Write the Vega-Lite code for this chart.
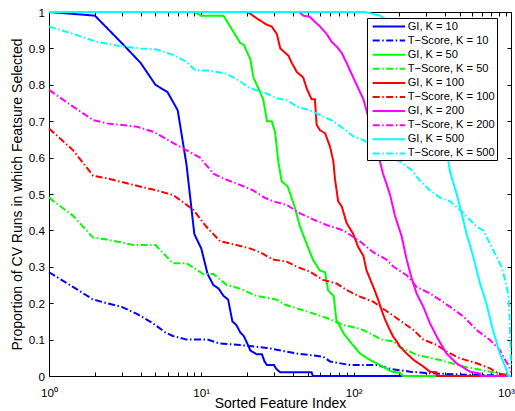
{
"$schema":"https://vega.github.io/schema/vega-lite/v6.json",
"width":462,"height":364,
"autosize":{"type":"none"},
"padding":{"left":49,"top":12,"right":4,"bottom":35},
"background":"white",
"datasets":{"d":[
{"series":"GI, K = 10","x":1,"y":1},{"series":"GI, K = 10","x":2,"y":0.99},{"series":"GI, K = 10","x":3,"y":0.915},{"series":"GI, K = 10","x":4,"y":0.86},{"series":"GI, K = 10","x":5,"y":0.8},{"series":"GI, K = 10","x":6,"y":0.78},{"series":"GI, K = 10","x":7,"y":0.73},{"series":"GI, K = 10","x":8,"y":0.58},{"series":"GI, K = 10","x":9,"y":0.39},{"series":"GI, K = 10","x":10,"y":0.35},{"series":"GI, K = 10","x":11,"y":0.28},{"series":"GI, K = 10","x":12,"y":0.25},{"series":"GI, K = 10","x":13,"y":0.24},{"series":"GI, K = 10","x":14,"y":0.22},{"series":"GI, K = 10","x":15,"y":0.21},{"series":"GI, K = 10","x":16,"y":0.15},{"series":"GI, K = 10","x":17,"y":0.14},{"series":"GI, K = 10","x":18,"y":0.12},{"series":"GI, K = 10","x":19,"y":0.11},{"series":"GI, K = 10","x":20,"y":0.09},{"series":"GI, K = 10","x":21,"y":0.07},{"series":"GI, K = 10","x":23,"y":0.06},{"series":"GI, K = 10","x":25,"y":0.06},{"series":"GI, K = 10","x":26,"y":0.04},{"series":"GI, K = 10","x":27,"y":0.03},{"series":"GI, K = 10","x":30,"y":0.03},{"series":"GI, K = 10","x":31,"y":0.02},{"series":"GI, K = 10","x":33,"y":0.01},{"series":"GI, K = 10","x":53,"y":0.01},{"series":"GI, K = 10","x":54,"y":0},{"series":"GI, K = 10","x":1080,"y":0},
{"series":"T−Score, K = 10","x":1,"y":0.285},{"series":"T−Score, K = 10","x":1.5,"y":0.24},{"series":"T−Score, K = 10","x":1.95,"y":0.21},{"series":"T−Score, K = 10","x":2.4,"y":0.2},{"series":"T−Score, K = 10","x":3,"y":0.19},{"series":"T−Score, K = 10","x":3.8,"y":0.17},{"series":"T−Score, K = 10","x":4.8,"y":0.145},{"series":"T−Score, K = 10","x":5.8,"y":0.12},{"series":"T−Score, K = 10","x":6.5,"y":0.11},{"series":"T−Score, K = 10","x":8,"y":0.1},{"series":"T−Score, K = 10","x":11,"y":0.1},{"series":"T−Score, K = 10","x":13,"y":0.09},{"series":"T−Score, K = 10","x":18,"y":0.085},{"series":"T−Score, K = 10","x":27,"y":0.077},{"series":"T−Score, K = 10","x":42,"y":0.062},{"series":"T−Score, K = 10","x":63,"y":0.053},{"series":"T−Score, K = 10","x":70,"y":0.04},{"series":"T−Score, K = 10","x":95,"y":0.03},{"series":"T−Score, K = 10","x":142,"y":0.03},{"series":"T−Score, K = 10","x":173,"y":0.02},{"series":"T−Score, K = 10","x":200,"y":0.016},{"series":"T−Score, K = 10","x":235,"y":0.012},{"series":"T−Score, K = 10","x":300,"y":0.008},{"series":"T−Score, K = 10","x":500,"y":0.004},{"series":"T−Score, K = 10","x":800,"y":0.002},{"series":"T−Score, K = 10","x":1080,"y":0},
{"series":"GI, K = 50","x":1,"y":1},{"series":"GI, K = 50","x":9,"y":1},{"series":"GI, K = 50","x":10,"y":0.99},{"series":"GI, K = 50","x":14,"y":0.99},{"series":"GI, K = 50","x":16,"y":0.95},{"series":"GI, K = 50","x":18,"y":0.915},{"series":"GI, K = 50","x":19,"y":0.91},{"series":"GI, K = 50","x":21,"y":0.87},{"series":"GI, K = 50","x":22,"y":0.82},{"series":"GI, K = 50","x":24,"y":0.785},{"series":"GI, K = 50","x":25.5,"y":0.76},{"series":"GI, K = 50","x":27,"y":0.7},{"series":"GI, K = 50","x":29,"y":0.7},{"series":"GI, K = 50","x":30.5,"y":0.67},{"series":"GI, K = 50","x":32,"y":0.59},{"series":"GI, K = 50","x":33.7,"y":0.535},{"series":"GI, K = 50","x":37,"y":0.52},{"series":"GI, K = 50","x":41,"y":0.465},{"series":"GI, K = 50","x":44.5,"y":0.41},{"series":"GI, K = 50","x":49,"y":0.365},{"series":"GI, K = 50","x":54,"y":0.32},{"series":"GI, K = 50","x":60,"y":0.29},{"series":"GI, K = 50","x":65,"y":0.285},{"series":"GI, K = 50","x":68,"y":0.235},{"series":"GI, K = 50","x":74,"y":0.22},{"series":"GI, K = 50","x":77,"y":0.155},{"series":"GI, K = 50","x":86,"y":0.117},{"series":"GI, K = 50","x":95,"y":0.094},{"series":"GI, K = 50","x":110,"y":0.062},{"series":"GI, K = 50","x":128,"y":0.044},{"series":"GI, K = 50","x":149,"y":0.03},{"series":"GI, K = 50","x":178,"y":0.012},{"series":"GI, K = 50","x":202,"y":0.009},{"series":"GI, K = 50","x":211,"y":0},{"series":"GI, K = 50","x":1080,"y":0},
{"series":"T−Score, K = 50","x":1,"y":0.49},{"series":"T−Score, K = 50","x":1.44,"y":0.44},{"series":"T−Score, K = 50","x":1.95,"y":0.38},{"series":"T−Score, K = 50","x":2.4,"y":0.375},{"series":"T−Score, K = 50","x":3.6,"y":0.36},{"series":"T−Score, K = 50","x":5,"y":0.36},{"series":"T−Score, K = 50","x":6.5,"y":0.31},{"series":"T−Score, K = 50","x":8,"y":0.31},{"series":"T−Score, K = 50","x":10.3,"y":0.28},{"series":"T−Score, K = 50","x":12,"y":0.28},{"series":"T−Score, K = 50","x":14.7,"y":0.25},{"series":"T−Score, K = 50","x":18,"y":0.24},{"series":"T−Score, K = 50","x":23,"y":0.22},{"series":"T−Score, K = 50","x":31,"y":0.21},{"series":"T−Score, K = 50","x":36,"y":0.195},{"series":"T−Score, K = 50","x":51.5,"y":0.175},{"series":"T−Score, K = 50","x":66,"y":0.16},{"series":"T−Score, K = 50","x":86,"y":0.14},{"series":"T−Score, K = 50","x":110,"y":0.13},{"series":"T−Score, K = 50","x":128,"y":0.117},{"series":"T−Score, K = 50","x":153,"y":0.1},{"series":"T−Score, K = 50","x":183,"y":0.095},{"series":"T−Score, K = 50","x":202,"y":0.08},{"series":"T−Score, K = 50","x":259,"y":0.058},{"series":"T−Score, K = 50","x":369,"y":0.044},{"series":"T−Score, K = 50","x":527,"y":0.026},{"series":"T−Score, K = 50","x":785,"y":0.012},{"series":"T−Score, K = 50","x":1000,"y":0.004},{"series":"T−Score, K = 50","x":1080,"y":0},
{"series":"GI, K = 100","x":1,"y":1},{"series":"GI, K = 100","x":20,"y":1},{"series":"GI, K = 100","x":21,"y":0.995},{"series":"GI, K = 100","x":23.6,"y":0.98},{"series":"GI, K = 100","x":27,"y":0.965},{"series":"GI, K = 100","x":29,"y":0.96},{"series":"GI, K = 100","x":31.3,"y":0.94},{"series":"GI, K = 100","x":33,"y":0.9},{"series":"GI, K = 100","x":37.3,"y":0.88},{"series":"GI, K = 100","x":39.3,"y":0.86},{"series":"GI, K = 100","x":42.4,"y":0.835},{"series":"GI, K = 100","x":46.7,"y":0.82},{"series":"GI, K = 100","x":49.2,"y":0.79},{"series":"GI, K = 100","x":53,"y":0.76},{"series":"GI, K = 100","x":55.7,"y":0.76},{"series":"GI, K = 100","x":57.2,"y":0.69},{"series":"GI, K = 100","x":60.2,"y":0.675},{"series":"GI, K = 100","x":65,"y":0.667},{"series":"GI, K = 100","x":70,"y":0.63},{"series":"GI, K = 100","x":73.6,"y":0.59},{"series":"GI, K = 100","x":75.5,"y":0.54},{"series":"GI, K = 100","x":79.2,"y":0.48},{"series":"GI, K = 100","x":83.7,"y":0.465},{"series":"GI, K = 100","x":90,"y":0.42},{"series":"GI, K = 100","x":99.5,"y":0.39},{"series":"GI, K = 100","x":107,"y":0.355},{"series":"GI, K = 100","x":116,"y":0.33},{"series":"GI, K = 100","x":121.6,"y":0.29},{"series":"GI, K = 100","x":134.6,"y":0.245},{"series":"GI, K = 100","x":145,"y":0.21},{"series":"GI, K = 100","x":153,"y":0.18},{"series":"GI, K = 100","x":161,"y":0.155},{"series":"GI, K = 100","x":173,"y":0.126},{"series":"GI, K = 100","x":182,"y":0.108},{"series":"GI, K = 100","x":192,"y":0.095},{"series":"GI, K = 100","x":202,"y":0.08},{"series":"GI, K = 100","x":223,"y":0.062},{"series":"GI, K = 100","x":248,"y":0.044},{"series":"GI, K = 100","x":287,"y":0.026},{"series":"GI, K = 100","x":317,"y":0.012},{"series":"GI, K = 100","x":350,"y":0.01},{"series":"GI, K = 100","x":353,"y":0},{"series":"GI, K = 100","x":1080,"y":0},
{"series":"T−Score, K = 100","x":1,"y":0.68},{"series":"T−Score, K = 100","x":1.44,"y":0.62},{"series":"T−Score, K = 100","x":1.95,"y":0.55},{"series":"T−Score, K = 100","x":2.4,"y":0.543},{"series":"T−Score, K = 100","x":4,"y":0.52},{"series":"T−Score, K = 100","x":5.1,"y":0.51},{"series":"T−Score, K = 100","x":6.55,"y":0.497},{"series":"T−Score, K = 100","x":8.9,"y":0.456},{"series":"T−Score, K = 100","x":10.8,"y":0.41},{"series":"T−Score, K = 100","x":13.3,"y":0.37},{"series":"T−Score, K = 100","x":17,"y":0.36},{"series":"T−Score, K = 100","x":21,"y":0.35},{"series":"T−Score, K = 100","x":24.3,"y":0.34},{"series":"T−Score, K = 100","x":29.6,"y":0.32},{"series":"T−Score, K = 100","x":36.4,"y":0.314},{"series":"T−Score, K = 100","x":42.4,"y":0.3},{"series":"T−Score, K = 100","x":51.5,"y":0.287},{"series":"T−Score, K = 100","x":63,"y":0.264},{"series":"T−Score, K = 100","x":77.4,"y":0.254},{"series":"T−Score, K = 100","x":90,"y":0.236},{"series":"T−Score, K = 100","x":110,"y":0.218},{"series":"T−Score, K = 100","x":134.6,"y":0.204},{"series":"T−Score, K = 100","x":173,"y":0.172},{"series":"T−Score, K = 100","x":207,"y":0.149},{"series":"T−Score, K = 100","x":248,"y":0.126},{"series":"T−Score, K = 100","x":287,"y":0.1},{"series":"T−Score, K = 100","x":352,"y":0.085},{"series":"T−Score, K = 100","x":407,"y":0.067},{"series":"T−Score, K = 100","x":497,"y":0.049},{"series":"T−Score, K = 100","x":643,"y":0.035},{"series":"T−Score, K = 100","x":786,"y":0.021},{"series":"T−Score, K = 100","x":890,"y":0.007},{"series":"T−Score, K = 100","x":1000,"y":0.002},{"series":"T−Score, K = 100","x":1080,"y":0},
{"series":"GI, K = 200","x":1,"y":1},{"series":"GI, K = 200","x":44,"y":1},{"series":"GI, K = 200","x":46.7,"y":0.99},{"series":"GI, K = 200","x":51.5,"y":0.987},{"series":"GI, K = 200","x":55.7,"y":0.973},{"series":"GI, K = 200","x":60.2,"y":0.96},{"series":"GI, K = 200","x":66.4,"y":0.94},{"series":"GI, K = 200","x":71.8,"y":0.918},{"series":"GI, K = 200","x":77.4,"y":0.905},{"series":"GI, K = 200","x":83.7,"y":0.887},{"series":"GI, K = 200","x":90,"y":0.86},{"series":"GI, K = 200","x":97,"y":0.83},{"series":"GI, K = 200","x":104.7,"y":0.8},{"series":"GI, K = 200","x":116,"y":0.76},{"series":"GI, K = 200","x":135,"y":0.66},{"series":"GI, K = 200","x":156,"y":0.556},{"series":"GI, K = 200","x":173,"y":0.5},{"series":"GI, K = 200","x":187,"y":0.44},{"series":"GI, K = 200","x":207,"y":0.383},{"series":"GI, K = 200","x":223,"y":0.32},{"series":"GI, K = 200","x":240,"y":0.27},{"series":"GI, K = 200","x":259,"y":0.227},{"series":"GI, K = 200","x":287,"y":0.19},{"series":"GI, K = 200","x":317,"y":0.145},{"series":"GI, K = 200","x":360,"y":0.1},{"series":"GI, K = 200","x":407,"y":0.062},{"series":"GI, K = 200","x":474,"y":0.035},{"series":"GI, K = 200","x":580,"y":0.012},{"series":"GI, K = 200","x":675,"y":0.007},{"series":"GI, K = 200","x":680,"y":0},{"series":"GI, K = 200","x":1080,"y":0},
{"series":"T−Score, K = 200","x":1,"y":0.786},{"series":"T−Score, K = 200","x":1.44,"y":0.74},{"series":"T−Score, K = 200","x":1.95,"y":0.703},{"series":"T−Score, K = 200","x":2.4,"y":0.694},{"series":"T−Score, K = 200","x":3.76,"y":0.685},{"series":"T−Score, K = 200","x":4.84,"y":0.671},{"series":"T−Score, K = 200","x":6.55,"y":0.64},{"series":"T−Score, K = 200","x":8,"y":0.62},{"series":"T−Score, K = 200","x":9.8,"y":0.6},{"series":"T−Score, K = 200","x":12,"y":0.556},{"series":"T−Score, K = 200","x":13.9,"y":0.543},{"series":"T−Score, K = 200","x":17,"y":0.529},{"series":"T−Score, K = 200","x":21.9,"y":0.51},{"series":"T−Score, K = 200","x":26,"y":0.49},{"series":"T−Score, K = 200","x":29.6,"y":0.48},{"series":"T−Score, K = 200","x":36.4,"y":0.47},{"series":"T−Score, K = 200","x":44.5,"y":0.447},{"series":"T−Score, K = 200","x":54.4,"y":0.43},{"series":"T−Score, K = 200","x":66.4,"y":0.415},{"series":"T−Score, K = 200","x":85.6,"y":0.4},{"series":"T−Score, K = 200","x":110,"y":0.37},{"series":"T−Score, K = 200","x":134.6,"y":0.34},{"series":"T−Score, K = 200","x":164,"y":0.32},{"series":"T−Score, K = 200","x":183,"y":0.3},{"series":"T−Score, K = 200","x":223,"y":0.277},{"series":"T−Score, K = 200","x":259,"y":0.245},{"series":"T−Score, K = 200","x":317,"y":0.227},{"series":"T−Score, K = 200","x":369,"y":0.209},{"series":"T−Score, K = 200","x":430,"y":0.19},{"series":"T−Score, K = 200","x":527,"y":0.163},{"series":"T−Score, K = 200","x":643,"y":0.126},{"series":"T−Score, K = 200","x":786,"y":0.099},{"series":"T−Score, K = 200","x":913,"y":0.071},{"series":"T−Score, K = 200","x":990,"y":0.044},{"series":"T−Score, K = 200","x":1040,"y":0.03},{"series":"T−Score, K = 200","x":1080,"y":0.01},
{"series":"GI, K = 500","x":1,"y":1},{"series":"GI, K = 500","x":119,"y":1},{"series":"GI, K = 500","x":149,"y":0.99},{"series":"GI, K = 500","x":170,"y":0.975},{"series":"GI, K = 500","x":200,"y":0.95},{"series":"GI, K = 500","x":250,"y":0.9},{"series":"GI, K = 500","x":300,"y":0.83},{"series":"GI, K = 500","x":350,"y":0.74},{"series":"GI, K = 500","x":400,"y":0.64},{"series":"GI, K = 500","x":430,"y":0.56},{"series":"GI, K = 500","x":475,"y":0.5},{"series":"GI, K = 500","x":512,"y":0.447},{"series":"GI, K = 500","x":552,"y":0.39},{"series":"GI, K = 500","x":610,"y":0.328},{"series":"GI, K = 500","x":675,"y":0.255},{"series":"GI, K = 500","x":744,"y":0.2},{"series":"GI, K = 500","x":822,"y":0.126},{"series":"GI, K = 500","x":913,"y":0.062},{"series":"GI, K = 500","x":990,"y":0.026},{"series":"GI, K = 500","x":1040,"y":0},{"series":"GI, K = 500","x":1080,"y":0},
{"series":"T−Score, K = 500","x":1,"y":0.96},{"series":"T−Score, K = 500","x":1.44,"y":0.94},{"series":"T−Score, K = 500","x":2.06,"y":0.918},{"series":"T−Score, K = 500","x":3.07,"y":0.905},{"series":"T−Score, K = 500","x":4,"y":0.9},{"series":"T−Score, K = 500","x":5.1,"y":0.897},{"series":"T−Score, K = 500","x":6.55,"y":0.882},{"series":"T−Score, K = 500","x":8,"y":0.863},{"series":"T−Score, K = 500","x":9.1,"y":0.84},{"series":"T−Score, K = 500","x":11.4,"y":0.839},{"series":"T−Score, K = 500","x":14.7,"y":0.83},{"series":"T−Score, K = 500","x":17.9,"y":0.81},{"series":"T−Score, K = 500","x":20.9,"y":0.79},{"series":"T−Score, K = 500","x":25.5,"y":0.78},{"series":"T−Score, K = 500","x":31.3,"y":0.763},{"series":"T−Score, K = 500","x":36.4,"y":0.758},{"series":"T−Score, K = 500","x":42.4,"y":0.74},{"series":"T−Score, K = 500","x":51.5,"y":0.73},{"series":"T−Score, K = 500","x":63,"y":0.713},{"series":"T−Score, K = 500","x":73.6,"y":0.7},{"series":"T−Score, K = 500","x":85.6,"y":0.68},{"series":"T−Score, K = 500","x":99.5,"y":0.658},{"series":"T−Score, K = 500","x":116,"y":0.648},{"series":"T−Score, K = 500","x":150,"y":0.62},{"series":"T−Score, K = 500","x":200,"y":0.59},{"series":"T−Score, K = 500","x":240,"y":0.566},{"series":"T−Score, K = 500","x":271,"y":0.538},{"series":"T−Score, K = 500","x":317,"y":0.51},{"series":"T−Score, K = 500","x":369,"y":0.49},{"series":"T−Score, K = 500","x":430,"y":0.48},{"series":"T−Score, K = 500","x":527,"y":0.447},{"series":"T−Score, K = 500","x":643,"y":0.41},{"series":"T−Score, K = 500","x":710,"y":0.4},{"series":"T−Score, K = 500","x":825,"y":0.346},{"series":"T−Score, K = 500","x":935,"y":0.3},{"series":"T−Score, K = 500","x":1000,"y":0.255},{"series":"T−Score, K = 500","x":1040,"y":0.22},{"series":"T−Score, K = 500","x":1060,"y":0.15},{"series":"T−Score, K = 500","x":1075,"y":0.06},{"series":"T−Score, K = 500","x":1080,"y":0.03}
]},
"data":{"name":"d"},
"layer":[
{"mark":{"type":"line","strokeWidth":2,"clip":false},
"encoding":{
"x":{"field":"x","type":"quantitative","scale":{"type":"log","domain":[1,1080],"nice":false},
"axis":{"orient":"bottom","values":[1,2,3,4,5,6,7,8,9,10,20,30,40,50,60,70,80,90,100,200,300,400,500,600,700,800,900,1000],"labelExpr":"datum.value === 1 ? '10⁰' : datum.value === 10 ? '10¹' : datum.value === 100 ? '10²' : datum.value === 1000 ? '10³' : ''","labelPadding":15.4,"labelFlush":false,"labelOverlap":false,"title":"Sorted Feature Index","titlePadding":-3}},
"y":{"field":"y","type":"quantitative","scale":{"domain":[0,1],"nice":false},
"axis":{"orient":"left","values":[0,0.1,0.2,0.3,0.4,0.5,0.6,0.7,0.8,0.9,1],"format":"~g","labelPadding":8.5,"labelFlush":false,"labelOverlap":false,"title":"Proportion of CV Runs in which Featsure Selected","titlePadding":4}},
"color":{"field":"series","type":"nominal","title":null,
"scale":{"domain":["GI, K = 10","T−Score, K = 10","GI, K = 50","T−Score, K = 50","GI, K = 100","T−Score, K = 100","GI, K = 200","T−Score, K = 200","GI, K = 500","T−Score, K = 500"],
"range":["#0000ff","#0000ff","#00ff00","#00ff00","#ff0000","#ff0000","#ff00ff","#ff00ff","#00ffff","#00ffff"]}},
"strokeDash":{"field":"series","type":"nominal","title":null,
"scale":{"domain":["GI, K = 10","T−Score, K = 10","GI, K = 50","T−Score, K = 50","GI, K = 100","T−Score, K = 100","GI, K = 200","T−Score, K = 200","GI, K = 500","T−Score, K = 500"],
"range":[[1,0],[7,2.5,1.5,2.5],[1,0],[7,2.5,1.5,2.5],[1,0],[7,2.5,1.5,2.5],[1,0],[7,2.5,1.5,2.5],[1,0],[7,2.5,1.5,2.5]]}}
}},
{"mark":{"type":"point","opacity":0},
"encoding":{
"x":{"field":"x","type":"quantitative","axis":{"orient":"top","values":[1,2,3,4,5,6,7,8,9,10,20,30,40,50,60,70,80,90,100,200,300,400,500,600,700,800,900,1000],"labels":false,"title":null}},
"y":{"field":"y","type":"quantitative","axis":{"orient":"right","values":[0,0.1,0.2,0.3,0.4,0.5,0.6,0.7,0.8,0.9,1],"labels":false,"title":null}}
}}
],
"resolve":{"axis":{"x":"independent","y":"independent"}},
"config":{
"view":{"stroke":"black","strokeWidth":1},
"axis":{"domain":false,"grid":false,"ticks":true,"tickColor":"black","tickSize":-4,"tickWidth":1,"labelFont":"Liberation Sans","labelFontSize":11.7,"labelColor":"black","titleFont":"Liberation Sans","titleFontSize":14,"titleFontWeight":"normal","titleColor":"black"},
"legend":{"orient":"none","legendX":318,"legendY":6,"fillColor":"white","strokeColor":"black","padding":1.5,"rowPadding":1.1,"symbolType":"M-2.7,0H2.7","symbolSize":144,"symbolStrokeWidth":2,"symbolOffset":13.4,"labelOffset":11.8,"labelFont":"Liberation Sans","labelFontSize":11.1,"labelColor":"black","labelLimit":0}
}
}
